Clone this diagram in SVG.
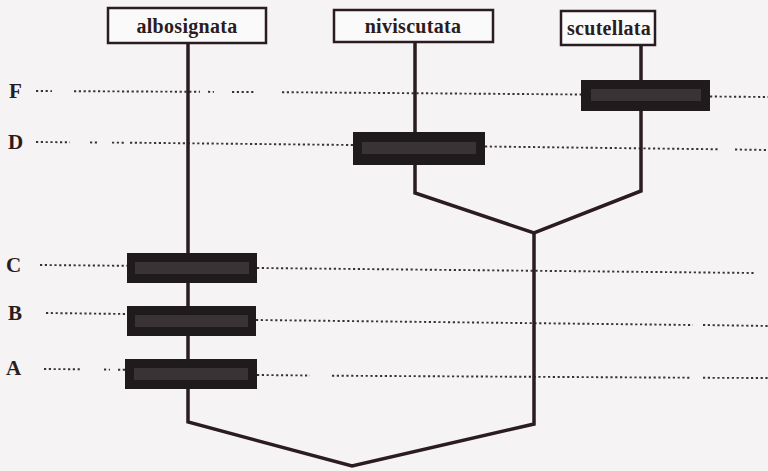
<svg xmlns="http://www.w3.org/2000/svg" width="768" height="471" viewBox="0 0 768 471">
<style>
.bg{fill:#f5f3f3}
.tax rect{fill:#fbfafa;stroke:#2a1c20;stroke-width:2.5}
.tax text{font-family:"Liberation Serif",serif;font-weight:bold;font-size:20px;fill:#2a1c20;text-anchor:middle;letter-spacing:0.3px}
.lbl{font-family:"Liberation Serif",serif;font-weight:bold;font-size:21px;fill:#2a1c20}
.dot{stroke:#3a3034;stroke-width:1.9;stroke-dasharray:2.2 2.6;fill:none}
.branch{stroke:#2a1c20;stroke-width:3.5;fill:none;stroke-linejoin:miter}
.mark rect.o{fill:#1f1a1c}
.mark rect.i{fill:#6a6466;opacity:0.35}
</style>
<rect class="bg" x="0" y="0" width="768" height="471"/>
<g id="levels">
<text class="lbl" x="9" y="98">F</text>
<text class="lbl" x="8" y="149">D</text>
<text class="lbl" x="6" y="272">C</text>
<text class="lbl" x="8" y="320">B</text>
<text class="lbl" x="6" y="375">A</text>
</g>
<g id="connectors">
<path class="dot" d="M36 91 L52 91.1 M74 91.2 L200 91.8 M208 91.8 L214 91.9 M232 92 L254 92 M282 92.2 L581 94.5 M710 96.5 L768 97"/>
<path class="dot" d="M36 142 L70 142.3 M90 142.4 L98 142.5 M112 142.6 L124 142.7 M130 142.7 L353 145 M485 146.5 L720 149.3 M735 149.5 L768 150"/>
<path class="dot" d="M40 265 L127 265.8 M257 268 L755 273"/>
<path class="dot" d="M46 313 L127 314 M256 320 L693 325 M703 325 L768 326"/>
<path class="dot" d="M44 369 L82 369.3 M104 369.5 L110 369.6 M118 369.7 L125 369.8 M257 375 L310 375.5 M332 375.7 L690 377.7 M703 377.8 L768 378"/>
<path class="branch" d="M188 43 L188 422 L352 466 L534 424 L534 234"/>
<path class="branch" d="M415 42 L415 193 L534 233 L641 191 L641 45"/>
</g>
<g id="albosignata" class="tax"><rect x="108" y="8" width="158" height="35"/><text x="187" y="33">albosignata</text></g>
<g id="niviscutata" class="tax"><rect x="334" y="10" width="159" height="32"/><text x="413" y="33">niviscutata</text></g>
<g id="scutellata" class="tax"><rect x="561" y="11" width="94" height="34"/><text x="609" y="35">scutellata</text></g>
<g id="markF" class="mark"><rect class="o" x="581" y="80" width="129" height="31"/><rect class="i" x="591" y="89" width="110" height="12"/></g>
<g id="markD" class="mark"><rect class="o" x="353" y="132" width="132" height="33"/><rect class="i" x="362" y="142" width="114" height="12"/></g>
<g id="markC" class="mark"><rect class="o" x="127" y="253" width="130" height="30"/><rect class="i" x="135" y="262" width="114" height="12"/></g>
<g id="markB" class="mark"><rect class="o" x="127" y="306" width="129" height="30"/><rect class="i" x="135" y="315" width="113" height="12"/></g>
<g id="markA" class="mark"><rect class="o" x="125" y="359" width="132" height="30"/><rect class="i" x="134" y="368" width="114" height="12"/></g>
</svg>
